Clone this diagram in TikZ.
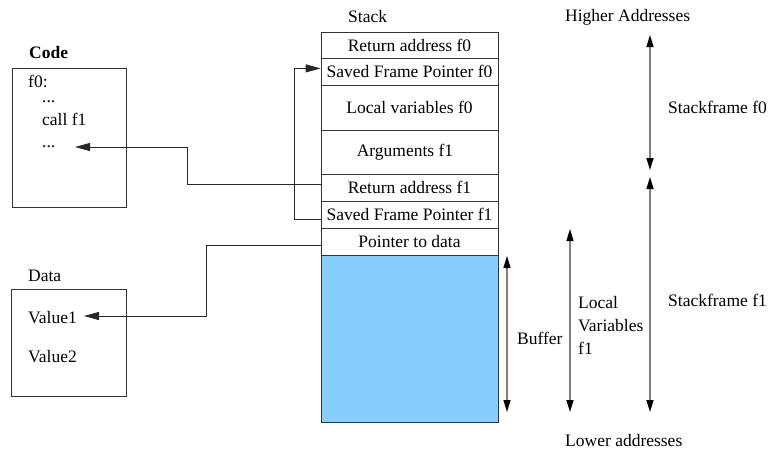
\documentclass[tikz,border=0pt]{standalone}
\usepackage{fontspec}
\setmainfont{Liberation Serif}
\usetikzlibrary{arrows.meta}
\definecolor{bufblue}{RGB}{135,206,250}
\begin{document}
\begin{tikzpicture}[x=1pt,y=-1pt,
  every node/.style={font=\fontsize{17.5}{23}\selectfont, inner sep=0pt},
  row/.style={draw=black!80, line width=0.8pt, minimum width=177pt, anchor=north, inner sep=0pt},
  lbl/.style={anchor=west},
  bl/.style={anchor=base west},
  link/.style={draw=black!85, line width=0.8pt, -{Triangle[length=15pt,width=8pt]}},
  span/.style={draw=black!50, line width=1.2pt, {Triangle[length=12pt,width=7pt,black]}-{Triangle[length=12pt,width=7pt,black]}},
  box/.style={draw=black!80, line width=0.8pt, anchor=north west}]
\useasboundingbox (0,0) rectangle (769,456);

% stack
\node[lbl] (stacklbl) at (348,17) {Stack};
\node[lbl] (higher) at (565,17) {Higher Addresses};
\node[lbl] (lower) at (565,441) {Lower addresses};
\node[row, minimum height=26pt] (ra0) at (409.5,32) {Return address f0};
\node[row, minimum height=27pt] (sfp0) at (409.5,58) {Saved Frame Pointer f0};
\node[row, minimum height=45pt] (lv0) at (409.5,85) {Local variables f0};
\node[row, minimum height=44pt] (arg1) at (409.5,130) {\hspace*{-9pt}Arguments f1};
\node[row, minimum height=27pt] (ra1) at (409.5,174) {Return address f1};
\node[row, minimum height=27pt] (sfp1) at (409.5,201) {Saved Frame Pointer f1};
\node[row, minimum height=27pt] (ptr) at (409.5,228) {Pointer to data};
\node[row, minimum height=167pt, fill=bufblue] (buf) at (409.5,255) {};

% code box
\node[lbl, font=\fontsize{17.5}{23}\selectfont\bfseries] (codelbl) at (29,53) {Code};
\node[box, minimum width=114pt, minimum height=139pt] (code) at (12,68) {};
\node[bl] (f0) at (28,87) {f0:};
\node[bl] (d1) at (42,102) {...};
\node[bl] (call) at (42,125) {call f1};
\node[bl] (d2) at (42,147) {...};
\coordinate (cdots) at (75,147);

% data box
\node[lbl] (datalbl) at (28,276) {Data};
\node[box, minimum width=115pt, minimum height=107pt] (data) at (11,289) {};
\node[lbl] (v1) at (28,318) {Value1};
\node[lbl] (v2) at (28,357) {Value2};
\coordinate (v1in) at (84,316);

% connectors
\draw[link] ([yshift=4pt]ra1.west) -- ++(-133,0) |- (cdots);
\draw[link] ([yshift=-4pt]sfp1.west) -- ++(-26,0) |- ([yshift=3.5pt]sfp0.west);
\draw[link] ([yshift=-3.5pt]ptr.west) -- ++(-114,0) |- (v1in);

% spans
\coordinate (b1) at (507,256); \coordinate (b2) at (507,412);
\coordinate (l1) at (570,229); \coordinate (l2) at (570,412);
\coordinate (s1) at (650,177); \coordinate (s2) at (650,412);
\coordinate (t1) at (650,35);  \coordinate (t2) at (650,170);
\draw[span] (b1) -- (b2);
\draw[span] (l1) -- (l2);
\draw[span] (s1) -- (s2);
\draw[span] (t1) -- (t2);
\node[lbl] (buflbl) at (517,338) {Buffer};
\node[lbl, align=left] (lvlbl) at (578,325) {Local\\Variables\\f1};
\node[lbl] (sf1) at (668,300) {Stackframe f1};
\node[lbl] (sf0) at (668,107) {Stackframe f0};
\end{tikzpicture}
\end{document}
